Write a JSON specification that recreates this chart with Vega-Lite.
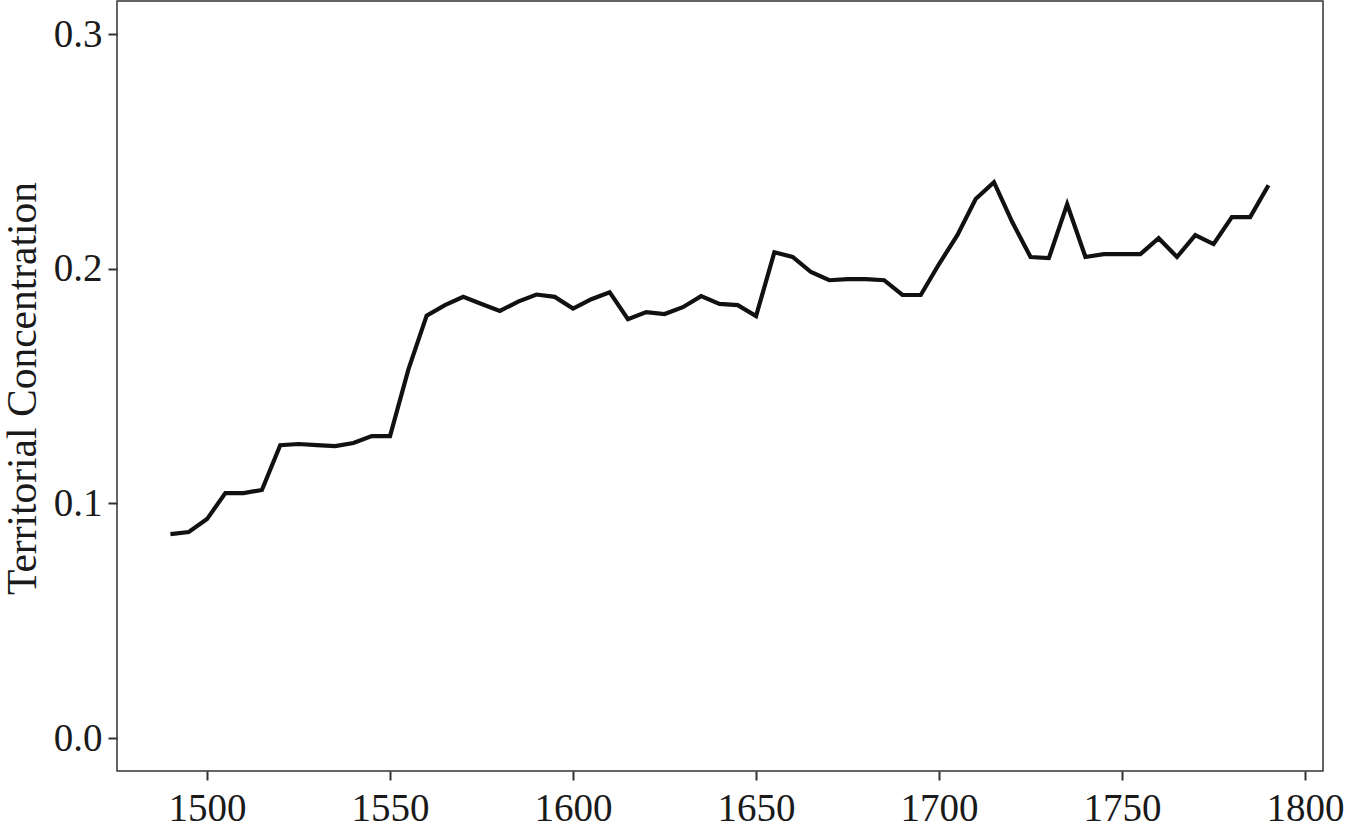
{
  "$schema": "https://vega.github.io/schema/vega-lite/v6.json",
  "width": 1206,
  "height": 770,
  "autosize": {"type": "none"},
  "padding": {"left": 117, "top": 1, "right": 23, "bottom": 60},
  "background": "white",
  "config": {
    "view": {"stroke": "#333333", "strokeWidth": 1.5},
    "font": "Liberation Serif"
  },
  "data": {
    "values": [
      {"year": 1490, "value": 0.0869},
      {"year": 1495, "value": 0.0878},
      {"year": 1500, "value": 0.0933},
      {"year": 1505, "value": 0.1044},
      {"year": 1510, "value": 0.1044},
      {"year": 1515, "value": 0.1057},
      {"year": 1520, "value": 0.1248},
      {"year": 1525, "value": 0.1253},
      {"year": 1530, "value": 0.1248},
      {"year": 1535, "value": 0.1244},
      {"year": 1540, "value": 0.1257},
      {"year": 1545, "value": 0.1287},
      {"year": 1550, "value": 0.1287},
      {"year": 1555, "value": 0.157},
      {"year": 1560, "value": 0.180},
      {"year": 1565, "value": 0.1845},
      {"year": 1570, "value": 0.188},
      {"year": 1575, "value": 0.185},
      {"year": 1580, "value": 0.182},
      {"year": 1585, "value": 0.186},
      {"year": 1590, "value": 0.189},
      {"year": 1595, "value": 0.188},
      {"year": 1600, "value": 0.183},
      {"year": 1605, "value": 0.187},
      {"year": 1610, "value": 0.190},
      {"year": 1615, "value": 0.1785},
      {"year": 1620, "value": 0.1815},
      {"year": 1625, "value": 0.1807},
      {"year": 1630, "value": 0.1836},
      {"year": 1635, "value": 0.1883},
      {"year": 1640, "value": 0.185},
      {"year": 1645, "value": 0.1845},
      {"year": 1650, "value": 0.1798},
      {"year": 1655, "value": 0.207},
      {"year": 1660, "value": 0.205},
      {"year": 1665, "value": 0.1986},
      {"year": 1670, "value": 0.1951},
      {"year": 1675, "value": 0.1956},
      {"year": 1680, "value": 0.1956},
      {"year": 1685, "value": 0.1951},
      {"year": 1690, "value": 0.1888},
      {"year": 1695, "value": 0.1888},
      {"year": 1700, "value": 0.202},
      {"year": 1705, "value": 0.2143},
      {"year": 1710, "value": 0.2297},
      {"year": 1715, "value": 0.2369},
      {"year": 1720, "value": 0.2199},
      {"year": 1725, "value": 0.205},
      {"year": 1730, "value": 0.2045},
      {"year": 1735, "value": 0.2275},
      {"year": 1740, "value": 0.205},
      {"year": 1745, "value": 0.2062},
      {"year": 1750, "value": 0.2062},
      {"year": 1755, "value": 0.2062},
      {"year": 1760, "value": 0.213},
      {"year": 1765, "value": 0.205},
      {"year": 1770, "value": 0.2143},
      {"year": 1775, "value": 0.2105},
      {"year": 1780, "value": 0.222},
      {"year": 1785, "value": 0.222},
      {"year": 1790, "value": 0.2356}
    ]
  },
  "mark": {"type": "line", "color": "#111111", "strokeWidth": 4.2, "strokeJoin": "miter", "strokeCap": "butt"},
  "encoding": {
    "x": {
      "field": "year",
      "type": "quantitative",
      "scale": {"domain": [1475.4, 1804.9], "nice": false, "zero": false},
      "axis": {
        "title": null,
        "values": [1500, 1550, 1600, 1650, 1700, 1750, 1800],
        "format": "d",
        "grid": false,
        "domain": false,
        "tickColor": "#333333",
        "tickWidth": 2,
        "tickSize": 9,
        "labelFont": "Liberation Serif",
        "labelFontSize": 39,
        "labelColor": "#1a1a1a",
        "labelPadding": 9,
        "labelFlush": false
      }
    },
    "y": {
      "field": "value",
      "type": "quantitative",
      "scale": {"domain": [-0.01406, 0.3141], "nice": false, "zero": false},
      "axis": {
        "title": "Territorial Concentration",
        "values": [0, 0.1, 0.2, 0.3],
        "format": ".1f",
        "grid": false,
        "domain": false,
        "tickColor": "#333333",
        "tickWidth": 2,
        "tickSize": 9,
        "labelFont": "Liberation Serif",
        "labelFontSize": 39,
        "labelColor": "#1a1a1a",
        "labelPadding": 6,
        "labelFlush": false,
        "titleFont": "Liberation Serif",
        "titleFontSize": 41.5,
        "titleFontWeight": "normal",
        "titleColor": "#1a1a1a",
        "titleAngle": -90,
        "titleX": -82,
        "titleY": 387,
        "titleAlign": "center",
        "titleBaseline": "alphabetic"
      }
    }
  }
}
